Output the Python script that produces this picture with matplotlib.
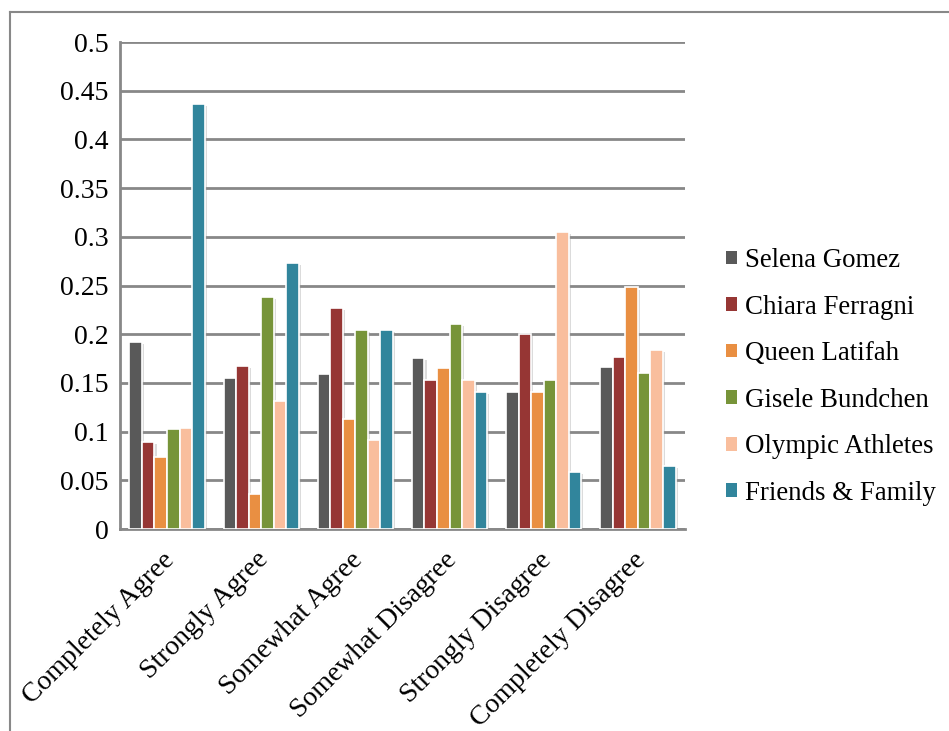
import matplotlib
matplotlib.use('Agg')
import matplotlib.pyplot as plt
import matplotlib.patheffects as pe
import matplotlib.transforms as mtransforms
from matplotlib.lines import Line2D
import numpy as np

categories = ['Completely Agree', 'Strongly Agree', 'Somewhat Agree',
              'Somewhat Disagree', 'Strongly Disagree', 'Completely Disagree']
series_names = ['Selena Gomez', 'Chiara Ferragni', 'Queen Latifah',
                'Gisele Bundchen', 'Olympic Athletes', 'Friends & Family']
selena = [0.192, 0.155, 0.159, 0.176, 0.141, 0.166]
chiara = [0.089, 0.167, 0.227, 0.153, 0.200, 0.177]
queen = [0.074, 0.036, 0.113, 0.165, 0.141, 0.248]
gisele = [0.103, 0.238, 0.204, 0.211, 0.153, 0.160]
olympic = [0.104, 0.131, 0.091, 0.153, 0.305, 0.184]
friends = [0.436, 0.273, 0.204, 0.141, 0.059, 0.065]
colors = ['#595959', '#963634', '#E98F42', '#779439', '#F9BE9D', '#31859C']
yticks = [0, 0.05, 0.1, 0.15, 0.2, 0.25, 0.3, 0.35, 0.4, 0.45, 0.5]

plt.rcParams['font.family'] = ['Liberation Serif', 'DejaVu Serif']

fig = plt.figure(figsize=(9.49, 7.31), dpi=100)
ax = fig.add_axes([0.1264, 0.2763, 0.5954, 0.6662])

data = [selena, chiara, queen, gisele, olympic, friends]
x = np.arange(len(categories))
w = 0.8 / len(data)
shadow = [pe.SimplePatchShadow(offset=(1.5, -1.5), shadow_rgbFace='#999999', alpha=0.35), pe.Normal()]
for i, (name, vals, c) in enumerate(zip(series_names, data, colors)):
    bars = ax.bar(x - 0.4 + w * (i + 0.5), vals, width=w, color=c,
                  edgecolor='white', linewidth=1.2, zorder=3)
    for b in bars:
        b.set_path_effects(shadow)
    # legend proxy without white edge
    ax.bar([0], [0], width=0, color=c, linewidth=0, label=name)

ax.set_xlim(-0.5, len(categories) - 0.5)
ax.set_ylim(0, 0.5)
ax.set_yticks(yticks)
ax.set_yticklabels(['%g' % v for v in yticks], fontsize=20)
ax.yaxis.grid(True, color='#888888', linewidth=2, zorder=0)
ax.set_axisbelow(True)
ax.tick_params(axis='y', length=0, pad=8)
ax.tick_params(axis='x', length=0, pad=6)
ax.set_xticks(x)
ax.set_xticklabels(categories, fontsize=20, rotation=45, ha='right',
                   rotation_mode='anchor')
offset = mtransforms.ScaledTranslation(-5 / 100, -10 / 100, fig.dpi_scale_trans)
for lbl in ax.get_xticklabels():
    lbl.set_transform(lbl.get_transform() + offset)
for s in ['top', 'right']:
    ax.spines[s].set_visible(False)
for s in ['left', 'bottom']:
    ax.spines[s].set_color('#888888')
    ax.spines[s].set_linewidth(2)

leg = fig.legend(loc='center left', bbox_to_anchor=(726 / 949, 1 - 377 / 731),
                 frameon=False, fontsize=19.4, handlelength=0.41,
                 handleheight=0.41, handletextpad=0.3, labelspacing=0.8,
                 borderpad=0, borderaxespad=0)

# outer frame
fig.add_artist(Line2D([10 / 949, 1], [1 - 12 / 731, 1 - 12 / 731],
                      color='#888888', linewidth=1.5, transform=fig.transFigure))
fig.add_artist(Line2D([10 / 949, 10 / 949], [0, 1 - 12 / 731],
                      color='#888888', linewidth=1.5, transform=fig.transFigure))

fig.savefig('out.png', dpi=100)
